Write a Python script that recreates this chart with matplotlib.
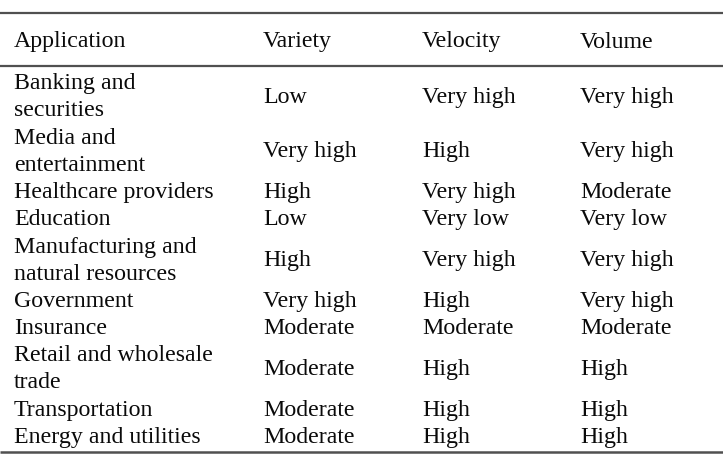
import matplotlib
matplotlib.use("Agg")
import matplotlib.pyplot as plt

headers = ["Application", "Variety", "Velocity", "Volume"]
applications = [
    "Banking and\nsecurities",
    "Media and\nentertainment",
    "Healthcare providers",
    "Education",
    "Manufacturing and\nnatural resources",
    "Government",
    "Insurance",
    "Retail and wholesale\ntrade",
    "Transportation",
    "Energy and utilities",
]
variety = ["Low", "Very high", "High", "Low", "High", "Very high",
           "Moderate", "Moderate", "Moderate", "Moderate"]
velocity = ["Very high", "High", "Very high", "Very low", "Very high", "High",
            "Moderate", "High", "High", "High"]
volume = ["Very high", "Very high", "Moderate", "Very low", "Very high", "Very high",
          "Moderate", "High", "High", "High"]

W, H = 723, 462
fig = plt.figure(figsize=(W / 100, H / 100), dpi=100)
ax = fig.add_axes([0, 0, 1, 1])
ax.set_xlim(0, W)
ax.set_ylim(H, 0)
ax.axis("off")

font = dict(family="Liberation Serif", fontsize=17.2, color="#0a0a0a", va="baseline")
col_x = [14, 263, 422, 580]
line_h = 27.2
first_base = 89.3
header_base = 47.5

rule_color = "#505050"
ax.plot([0, W], [13, 13], color=rule_color, lw=1.6, solid_capstyle="butt")
ax.plot([0, W], [66, 66], color=rule_color, lw=1.6, solid_capstyle="butt")
ax.plot([0, W], [452, 452], color=rule_color, lw=1.8, solid_capstyle="butt")

for x, h in zip(col_x, headers):
    ax.text(x, header_base, h, ha="left", **font)

line = 0
for app, va_, ve_, vo_ in zip(applications, variety, velocity, volume):
    parts = app.split("\n")
    bases = [first_base + (line + i) * line_h for i in range(len(parts))]
    for p, b in zip(parts, bases):
        ax.text(col_x[0], b, p, ha="left", **font)
    mid = sum(bases) / len(bases)
    for x, v in zip(col_x[1:], [va_, ve_, vo_]):
        ax.text(x, mid, v, ha="left", **font)
    line += len(parts)

fig.savefig("out.png", dpi=100, facecolor="white")
